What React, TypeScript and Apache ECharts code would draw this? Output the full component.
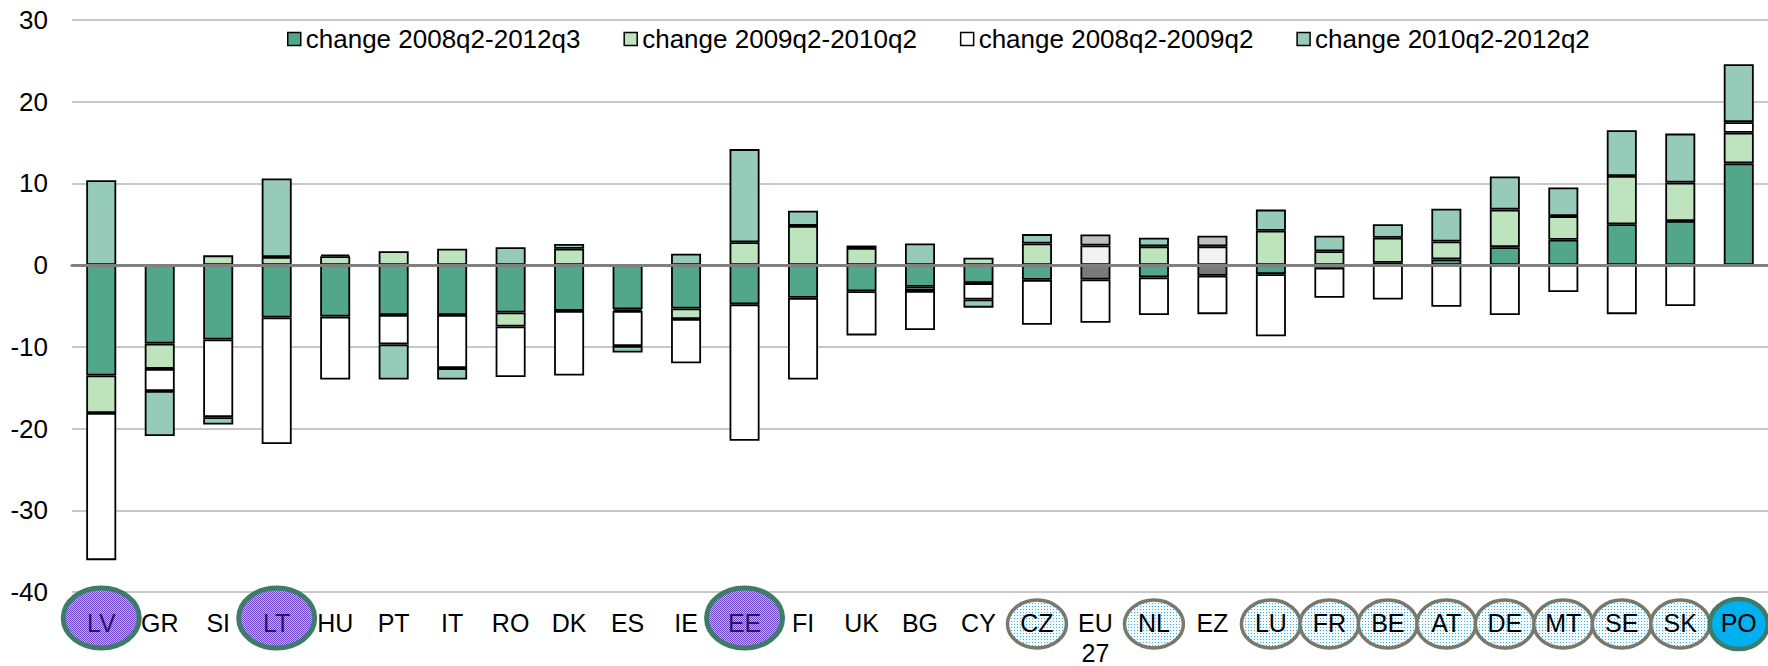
import React, { useEffect, useRef } from 'react';
import * as echarts from 'echarts';

const categories = ['LV', 'GR', 'SI', 'LT', 'HU', 'PT', 'IT', 'RO', 'DK', 'ES', 'IE', 'EE', 'FI', 'UK', 'BG', 'CY', 'CZ', 'EU27', 'NL', 'EZ', 'LU', 'FR', 'BE', 'AT', 'DE', 'MT', 'SE', 'SK', 'PO'];

const change0812 = [-13.5, -9.6, -9.1, -6.4, -6.3, -6.1, -6.1, -5.8, -5.6, -5.4, -5.3, -4.8, -4.0, -3.2, -2.65, -2.2, -1.8, -1.75, -1.5, -1.3, -1.1, -0.3, 0.3, 0.7, 2.2, 3.1, 5.0, 5.4, 12.45];
const change0910 = [-4.6, -3.1, 1.2, 1.0, 1.1, 1.7, 2.0, -1.7, 2.0, -0.2, -1.3, 2.8, 4.8, 2.1, -0.5, 0.9, 2.65, 2.4, 2.3, 2.3, 4.2, 1.7, 3.05, 2.2, 4.6, 2.9, 5.9, 4.7, 3.75];
const change0809 = [-18.0, -2.7, -9.5, -15.5, -7.7, -3.6, -6.5, -6.2, -7.9, -4.3, -5.4, -16.7, -10.0, -5.4, -4.8, -2.0, -5.5, -5.3, -4.6, -4.7, -7.6, -3.7, -4.2, -5.1, -6.1, -3.3, -6.0, -5.0, 1.3];
const change1012 = [10.4, -5.5, -0.9, 9.6, 0.2, -4.3, -1.4, 2.2, 0.6, -0.8, 1.4, 11.4, 1.85, 0.3, 2.65, -1.0, 1.15, 1.35, 1.05, 1.3, 2.6, 1.9, 1.65, 4.0, 4.05, 3.5, 5.6, 6.0, 7.1];

const seriesNames = ['change 2008q2-2012q3', 'change 2009q2-2010q2', 'change 2008q2-2009q2', 'change 2010q2-2012q2'];
const seriesColors = ['#52a68a', '#bde4bc', '#ffffff', '#97cbb9'];
const grayColors = ['#7a7a7a', '#f2f2f2', '#ffffff', '#c0c0c0'];

const yMin = -40;
const yMax = 30;
const yStep = 10;

const purpleCats = ['LV', 'LT', 'EE'];
const blueCats = ['CZ', 'NL', 'LU', 'FR', 'BE', 'AT', 'DE', 'MT', 'SE', 'SK'];
const cyanCats = ['PO'];
const grayCats = ['EU27', 'EZ'];

function makePattern(size: number, bg: string, dotColor: string, dots: number[][]) {
  const c = document.createElement('canvas');
  c.width = size;
  c.height = size;
  const ctx = c.getContext('2d')!;
  ctx.fillStyle = bg;
  ctx.fillRect(0, 0, size, size);
  ctx.fillStyle = dotColor;
  dots.forEach(([x, y]) => ctx.fillRect(x, y, 1, 1));
  return { image: c.toDataURL(), repeat: 'repeat', imageWidth: size, imageHeight: size };
}

export default function App() {
  const ref = useRef<HTMLDivElement>(null);
  useEffect(() => {
    const chart = echarts.init(ref.current!, null, { renderer: 'svg' });
    const font = "'Liberation Sans', Arial, sans-serif";
    const seriesValues = [change0812, change0910, change0809, change1012];
    const series = seriesValues.map((vals, i) => ({
      name: seriesNames[i],
      type: 'bar',
      stack: 'total',
      barWidth: 30,
      xAxisIndex: 0,
      itemStyle: { color: seriesColors[i], borderColor: '#000', borderWidth: 1.8 },
      data: vals.map((v, j) =>
        grayCats.includes(categories[j]) ? { value: v, itemStyle: { color: grayColors[i] } } : v
      ),
    }));

    const labelFormatter = (v: string) => {
      if (v === 'EU27') return '{n|EU}\n{n|27}';
      if (purpleCats.includes(v)) return `{p|${v}}`;
      return `{n|${v}}`;
    };

    chart.setOption({
      animation: false,
      textStyle: { fontFamily: font },
      grid: { left: 72, right: 0, top: 20, bottom: 74, containLabel: false },
      legend: {
        data: seriesNames,
        left: 287,
        top: 26,
        padding: 0,
        itemWidth: 13,
        itemHeight: 13,
        itemGap: 43,
        icon: 'rect',
        itemStyle: { borderColor: '#000', borderWidth: 1.5 },
        textStyle: { fontSize: 26, color: '#000', fontFamily: font },
      },
      xAxis: [
        {
          type: 'category',
          data: categories,
          position: 'bottom',
          z: 10,
          axisLine: { show: false, onZero: false },
          axisTick: { show: false },
          splitLine: { show: false },
          axisLabel: {
            interval: 0,
            margin: 16,
            formatter: labelFormatter,
            rich: {
              n: { fontSize: 25, lineHeight: 30, color: '#000', fontFamily: font },
              p: { fontSize: 25, lineHeight: 30, color: '#2a1660', fontFamily: font },
            },
          },
        },
        {
          type: 'category',
          data: categories,
          position: 'bottom',
          z: 10,
          axisLine: { show: true, onZero: true, lineStyle: { color: '#808080', width: 3 } },
          axisTick: { show: false },
          axisLabel: { show: false },
          splitLine: { show: false },
        },
      ],
      yAxis: {
        type: 'value',
        min: yMin,
        max: yMax,
        interval: yStep,
        axisLine: { show: false },
        axisTick: { show: false },
        axisLabel: { fontSize: 26, color: '#000', margin: 24, fontFamily: font },
        splitLine: { lineStyle: { color: '#c8c8c8', width: 2 } },
      },
      series,
    });

    const bottom = chart.convertToPixel({ yAxisIndex: 0 }, yMin) as number;
    const purplePat = makePattern(2, '#c2b2f2', '#6f45cc', [[0, 0], [1, 1]]);
    const bluePat = makePattern(3, '#f4fbfe', '#2eaee6', [[0, 0]]);
    const elements: any[] = [];
    categories.forEach((c) => {
      const x = chart.convertToPixel({ xAxisIndex: 0 }, c) as number;
      if (purpleCats.includes(c)) {
        elements.push({
          type: 'ellipse', z: 5, silent: true,
          shape: { cx: x, cy: bottom + 26, rx: 38, ry: 30 },
          style: { fill: purplePat, stroke: '#3e7c69', lineWidth: 5 },
        });
      } else if (blueCats.includes(c)) {
        elements.push({
          type: 'ellipse', z: 5, silent: true,
          shape: { cx: x, cy: bottom + 32, rx: 29.5, ry: 24 },
          style: { fill: bluePat, stroke: '#78796b', lineWidth: 3.5 },
        });
      } else if (cyanCats.includes(c)) {
        elements.push({
          type: 'ellipse', z: 5, silent: true,
          shape: { cx: x, cy: bottom + 32, rx: 29, ry: 25 },
          style: { fill: '#00b0f0', stroke: '#3e7c69', lineWidth: 4.5 },
        });
      }
    });
    chart.setOption({ graphic: { elements } });

    return () => chart.dispose();
  }, []);
  return <div ref={ref} style={{ position: 'absolute', left: 0, top: 0, width: 1768, height: 666 }} />;
}
